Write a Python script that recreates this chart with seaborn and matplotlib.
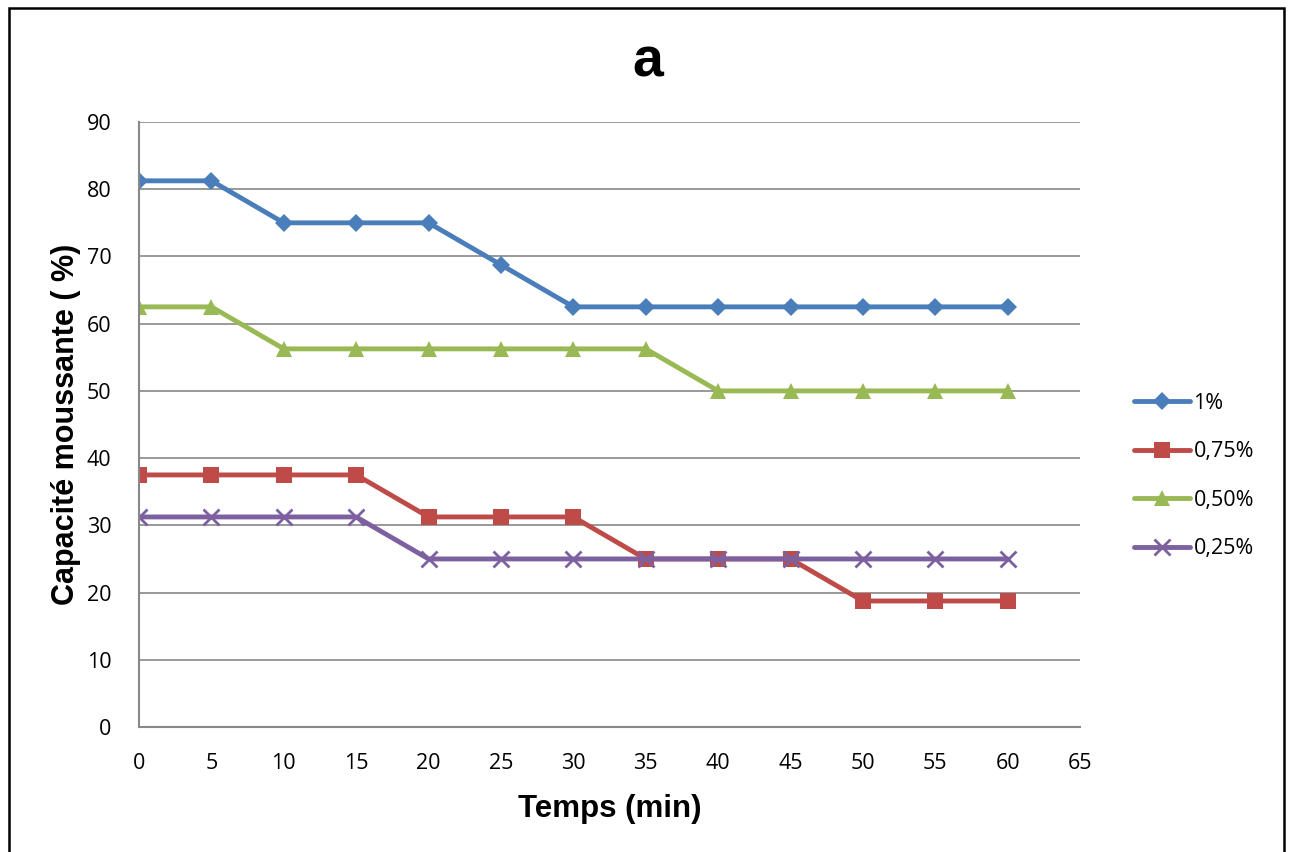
import pandas as pd
import seaborn as sns
import matplotlib.pyplot as plt
from matplotlib.patches import Rectangle

# data
temps = [0, 5, 10, 15, 20, 25, 30, 35, 40, 45, 50, 55, 60]
c_1 = [81.25, 81.25, 75, 75, 75, 68.75, 62.5, 62.5, 62.5, 62.5, 62.5, 62.5, 62.5]
c_075 = [37.5, 37.5, 37.5, 37.5, 31.25, 31.25, 31.25, 25, 25, 25, 18.75, 18.75, 18.75]
c_050 = [62.5, 62.5, 56.25, 56.25, 56.25, 56.25, 56.25, 56.25, 50, 50, 50, 50, 50]
c_025 = [31.25, 31.25, 31.25, 31.25, 25, 25, 25, 25, 25, 25, 25, 25, 25]
series = ["1%", "0,75%", "0,50%", "0,25%"]

df = pd.DataFrame({"Temps": temps, "1%": c_1, "0,75%": c_075, "0,50%": c_050, "0,25%": c_025})
df = df.melt(id_vars="Temps", var_name="conc", value_name="cap")

sns.set_style("white")
plt.rcParams["font.family"] = ["Open Sans", "DejaVu Sans"]
plt.rcParams["text.color"] = "black"
plt.rcParams["axes.labelcolor"] = "black"

colors = {"1%": "#4A7EBB", "0,75%": "#BE4B48", "0,50%": "#98B954", "0,25%": "#7D60A0"}
markers = {"1%": "D", "0,75%": "s", "0,50%": "^", "0,25%": "x"}
msize = {"1%": 9, "0,75%": 11, "0,50%": 11, "0,25%": 11}

fig = plt.figure(figsize=(12.9, 8.52), dpi=100)
ax = fig.add_axes([0.1078, 0.1467, 0.7295, 0.7101])

for s in series:
    sub = df[df["conc"] == s]
    mk = markers[s]
    sns.lineplot(data=sub, x="Temps", y="cap", ax=ax, color=colors[s], lw=3.5,
                 marker=mk, markersize=msize[s], markeredgewidth=2 if mk == "x" else 0,
                 markeredgecolor=colors[s], label=s)

ax.set_xlim(0, 65)
ax.set_ylim(0, 90)
ax.set_xticks(range(0, 70, 5))
ax.set_yticks(range(0, 100, 10))
ax.yaxis.grid(True, color="#888888", lw=1.2)
ax.set_axisbelow(True)
for side in ["top", "right"]:
    ax.spines[side].set_visible(False)
for side in ["left", "bottom"]:
    ax.spines[side].set_color("#888888")
    ax.spines[side].set_linewidth(1.5)
ax.tick_params(axis="x", direction="in", length=7, color="#888888", width=1.5,
               labelsize=15.5, pad=19, labelcolor="black")
ax.tick_params(axis="y", length=0, labelsize=15.5, pad=20, labelcolor="black")

ax.set_xlabel("Temps (min)", fontsize=22.5, fontweight="bold", family="Liberation Sans", labelpad=14)
ax.set_ylabel("Capacité moussante ( %)", fontsize=22, fontweight="bold", family="Liberation Sans", labelpad=4)
fig.text(0.502, 0.927, "a", fontsize=40, fontweight="bold", family="Liberation Sans",
         ha="center", va="center")

ax.legend(loc="center left", bbox_to_anchor=(1.037, 0.415), frameon=False, fontsize=15.5,
          handlelength=2.6, labelspacing=1.28, handletextpad=0.15)

fig.patches.append(Rectangle((9 / 1290, -0.02), 1275 / 1290, 1 - 8 / 852 + 0.02,
                             transform=fig.transFigure, fill=False, edgecolor="black", lw=1.8))

fig.savefig("out.png", dpi=100)
